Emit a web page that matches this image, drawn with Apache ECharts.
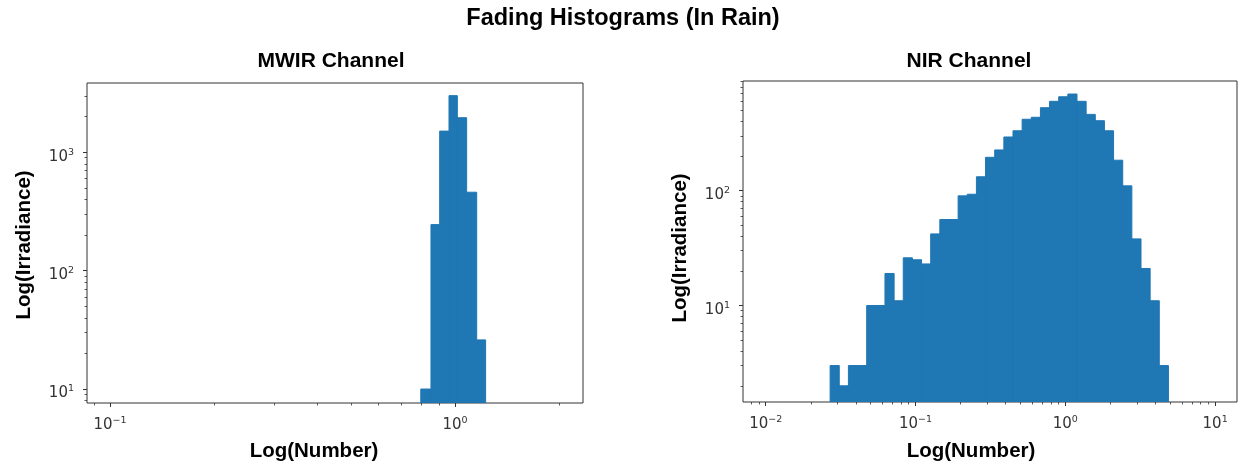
<!DOCTYPE html>
<html>
<head>
<meta charset="utf-8">
<script src="https://cdn.jsdelivr.net/npm/echarts@6/dist/echarts.min.js"></script>
<style>
  html, body { margin: 0; padding: 0; background: #ffffff; }
  #chart { width: 1238px; height: 466px; }
</style>
</head>
<body>
<div id="chart"></div>
<script>
// MWIR histogram: bin edges and counts per bin
const MWIR_EDGES = [0.796, 0.852, 0.903, 0.961, 1.016, 1.081, 1.156, 1.227];
const MWIR_COUNTS = [10, 245, 1510, 3010, 1960, 460, 26];

// NIR histogram: logarithmic bins spanning this range, counts per bin
const NIR_BIN_RANGE = [0.0269, 4.88];
const NIR_COUNTS = [3, 2, 3, 3, 10, 10, 19, 11, 26, 25, 23, 42, 56, 56, 90, 93,
  132, 195, 226, 293, 332, 418, 435, 527, 599, 656, 693, 599, 461, 406, 332,
  184, 110, 38, 21, 11, 3];

// Axis extents
const MWIR_X_RANGE = [0.0858, 2.35];
const MWIR_Y_RANGE = [7.62, 3850];
const NIR_X_RANGE = [0.00705, 14.0];
const NIR_Y_RANGE = [1.445, 900];

// Labelled decades
const MWIR_X_TICKS = [0.1, 1];
const MWIR_Y_TICKS = [10, 100, 1000];
const NIR_X_TICKS = [0.01, 0.1, 1, 10];
const NIR_Y_TICKS = [10, 100];

const BAR_COLOR = '#1f77b4';
const INK = '#333333';

// log-spaced edges, like numpy.logspace for the histogram bins
function logEdges(range, n) {
  const a = Math.log10(range[0]), b = Math.log10(range[1]);
  const out = [];
  for (let i = 0; i <= n; i++) out.push(Math.pow(10, a + (b - a) * i / n));
  return out;
}

// 2..9 x 10^k minor positions inside an axis range
function minorTicks(range) {
  const out = [];
  const k0 = Math.floor(Math.log10(range[0])), k1 = Math.ceil(Math.log10(range[1]));
  for (let k = k0; k <= k1; k++) {
    for (let m = 2; m <= 9; m++) {
      const v = m * Math.pow(10, k);
      if (v >= range[0] && v <= range[1]) out.push(+v.toPrecision(6));
    }
  }
  return out;
}

// "10" with the exponent set as a raised rich-text token
function decadeLabel(v) {
  const e = Math.round(Math.log10(v));
  return '{b|10}{s|' + String(e).replace('-', '\u2212') + '}';
}

const labelRich = {
  b: { fontFamily: 'DejaVu Sans', fontSize: 15, color: INK, lineHeight: 16, verticalAlign: 'bottom' },
  s: { fontFamily: 'DejaVu Sans', fontSize: 9.5, color: INK, lineHeight: 24 }
};

function histData(edges, counts) {
  return counts.map((c, i) => [edges[i], edges[i + 1], c]);
}

function histRender(yMin) {
  return function (params, api) {
    const top = api.coord([api.value(0), api.value(2)]);
    const bot = api.coord([api.value(1), yMin]);
    return {
      type: 'rect',
      shape: { x: top[0], y: top[1], width: bot[0] - top[0], height: bot[1] - top[1] },
      style: { fill: BAR_COLOR, stroke: BAR_COLOR, lineWidth: 1 }
    };
  };
}

function axisPair(dim, gridIndex, range, majors) {
  const base = {
    type: 'log', logBase: 10, gridIndex: gridIndex,
    min: range[0], max: range[1],
    position: dim === 'x' ? 'bottom' : 'left',
    axisLine: { show: false },
    splitLine: { show: false },
    minorTick: { show: false },
    minorSplitLine: { show: false }
  };
  const major = Object.assign({}, base, {
    axisTick: { show: true, inside: false, length: 4, customValues: majors,
      lineStyle: { color: INK, width: 1 } },
    axisLabel: { show: true, customValues: majors, margin: dim === 'x' ? 6 : 13,
      formatter: decadeLabel, rich: labelRich }
  });
  const minor = Object.assign({}, base, {
    axisTick: { show: true, inside: false, length: 2.5, customValues: minorTicks(range),
      lineStyle: { color: INK, width: 0.8 } },
    axisLabel: { show: false }
  });
  return [major, minor];
}

const titleFont = 'Liberation Sans, Arial, sans-serif';

function textEl(text, x, y, size, rotate) {
  return {
    type: 'text', x: x, y: y, rotation: rotate ? Math.PI / 2 : 0,
    style: {
      text: text, fill: '#000', align: 'center', verticalAlign: 'middle',
      font: 'bold ' + size + 'px ' + titleFont
    }
  };
}

const chart = echarts.init(document.getElementById('chart'), null, { renderer: 'canvas' });

const mwirX = axisPair('x', 0, MWIR_X_RANGE, MWIR_X_TICKS);
const nirX = axisPair('x', 1, NIR_X_RANGE, NIR_X_TICKS);
const mwirY = axisPair('y', 0, MWIR_Y_RANGE, MWIR_Y_TICKS);
const nirY = axisPair('y', 1, NIR_Y_RANGE, NIR_Y_TICKS);

chart.setOption({
  animation: false,
  backgroundColor: '#ffffff',
  grid: [
    { left: 87, top: 83, width: 496, height: 320, show: true, borderColor: INK, borderWidth: 1, backgroundColor: '#fff' },
    { left: 743, top: 81, width: 494, height: 321, show: true, borderColor: INK, borderWidth: 1, backgroundColor: '#fff' }
  ],
  xAxis: [mwirX[0], mwirX[1], nirX[0], nirX[1]],
  yAxis: [mwirY[0], mwirY[1], nirY[0], nirY[1]],
  series: [
    {
      name: 'MWIR', type: 'custom', xAxisIndex: 0, yAxisIndex: 0, clip: true,
      renderItem: histRender(MWIR_Y_RANGE[0]),
      encode: { x: [0, 1], y: 2 },
      data: histData(MWIR_EDGES, MWIR_COUNTS)
    },
    {
      name: 'NIR', type: 'custom', xAxisIndex: 2, yAxisIndex: 2, clip: true,
      renderItem: histRender(NIR_Y_RANGE[0]),
      encode: { x: [0, 1], y: 2 },
      data: histData(logEdges(NIR_BIN_RANGE, NIR_COUNTS.length), NIR_COUNTS)
    }
  ],
  graphic: [
    textEl('Fading Histograms (In Rain)', 623, 19, 23.5),
    textEl('MWIR Channel', 331, 61, 21),
    textEl('NIR Channel', 969, 61, 21),
    textEl('Log(Irradiance)', 24, 245, 20.5, true),
    textEl('Log(Irradiance)', 680, 248, 20.5, true),
    textEl('Log(Number)', 314, 451, 20.5),
    textEl('Log(Number)', 971, 451, 20.5)
  ]
});
</script>
</body>
</html>
